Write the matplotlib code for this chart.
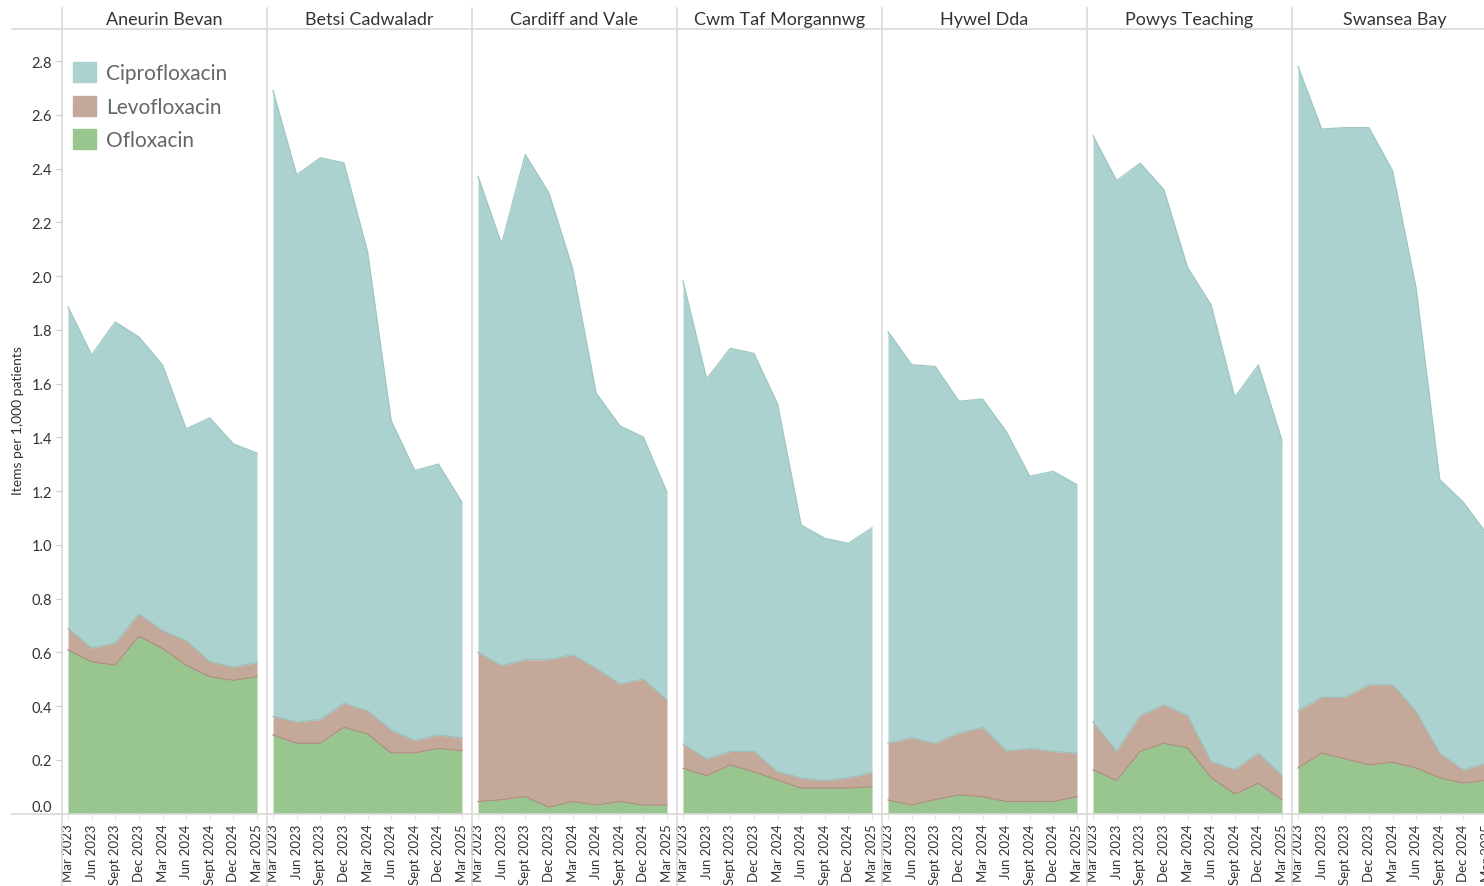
import numpy as np
import matplotlib
matplotlib.use("Agg")
import matplotlib.pyplot as plt
from matplotlib.lines import Line2D
from matplotlib.patches import Patch

plt.rcParams['font.family'] = ['Lato', 'DejaVu Sans']

# --- data (items per 1,000 patients) ---
quarters = ['Mar 2023', 'Jun 2023', 'Sept 2023', 'Dec 2023', 'Mar 2024',
            'Jun 2024', 'Sept 2024', 'Dec 2024', 'Mar 2025']
boards = ['Aneurin Bevan', 'Betsi Cadwaladr', 'Cardiff and Vale',
          'Cwm Taf Morgannwg', 'Hywel Dda', 'Powys Teaching', 'Swansea Bay']

ofloxacin = [
    [0.610, 0.565, 0.553, 0.660, 0.615, 0.553, 0.510, 0.496, 0.510],
    [0.293, 0.262, 0.262, 0.321, 0.297, 0.226, 0.226, 0.243, 0.234],
    [0.045, 0.052, 0.063, 0.024, 0.045, 0.032, 0.045, 0.032, 0.032],
    [0.169, 0.141, 0.181, 0.156, 0.125, 0.095, 0.095, 0.095, 0.100],
    [0.051, 0.032, 0.052, 0.070, 0.063, 0.045, 0.045, 0.045, 0.063],
    [0.163, 0.123, 0.232, 0.262, 0.245, 0.135, 0.073, 0.113, 0.052],
    [0.170, 0.225, 0.204, 0.182, 0.191, 0.170, 0.133, 0.114, 0.124],
]
levofloxacin = [
    [0.080, 0.051, 0.082, 0.083, 0.066, 0.091, 0.056, 0.049, 0.053],
    [0.069, 0.080, 0.088, 0.090, 0.086, 0.085, 0.046, 0.050, 0.048],
    [0.556, 0.499, 0.510, 0.549, 0.547, 0.509, 0.438, 0.469, 0.391],
    [0.090, 0.063, 0.051, 0.076, 0.031, 0.038, 0.028, 0.038, 0.054],
    [0.211, 0.250, 0.210, 0.230, 0.258, 0.189, 0.198, 0.187, 0.162],
    [0.179, 0.109, 0.133, 0.143, 0.120, 0.059, 0.091, 0.112, 0.089],
    [0.213, 0.208, 0.229, 0.298, 0.289, 0.211, 0.092, 0.049, 0.064],
]
ciprofloxacin = [
    [1.196, 1.091, 1.195, 1.031, 0.989, 0.788, 0.907, 0.831, 0.779],
    [2.329, 2.035, 2.091, 2.011, 1.709, 1.152, 1.005, 1.008, 0.877],
    [1.771, 1.569, 1.880, 1.737, 1.438, 1.024, 0.961, 0.900, 0.773],
    [1.723, 1.414, 1.500, 1.481, 1.369, 0.941, 0.902, 0.873, 0.910],
    [1.532, 1.389, 1.402, 1.235, 1.222, 1.189, 1.013, 1.042, 0.999],
    [2.181, 2.124, 2.056, 1.917, 1.668, 1.699, 1.386, 1.445, 1.247],
    [2.398, 2.115, 2.120, 2.073, 1.913, 1.574, 1.018, 0.996, 0.852],
]

TEAL, BROWN, GREEN = '#acd2cf', '#c4a99b', '#99c58f'
TEAL_EDGE, BROWN_EDGE, GREEN_EDGE = '#9dc8c4', '#9fbcb6', '#a8917f'
GRID = '#d9d9d9'
TEXT = '#333333'

# --- layout in pixels ---
W, H = 1484, 887
PANEL_W = 205
X0 = 62
Y_TOP, Y_BOT = 30, 814.7

fig = plt.figure(figsize=(W / 100, H / 100), dpi=100)

x = np.arange(len(quarters))
for i, board in enumerate(boards):
    left = X0 + i * PANEL_W
    ax = fig.add_axes([left / W, (H - Y_BOT) / H, PANEL_W / W, (Y_BOT - Y_TOP) / H])
    o = np.array(ofloxacin[i])
    l = o + np.array(levofloxacin[i])
    c = l + np.array(ciprofloxacin[i])
    ax.fill_between(x, 0, o, color=GREEN, lw=0)
    ax.fill_between(x, o, l, color=BROWN, lw=0)
    ax.fill_between(x, l, c, color=TEAL, lw=0)
    ax.plot(x, o, color=GREEN_EDGE, lw=0.9)
    ax.plot(x, l, color=BROWN_EDGE, lw=0.9)
    ax.plot(x, c, color=TEAL_EDGE, lw=0.9)

    ax.set_xlim(-0.254, 8.423)
    ax.set_ylim(0, 2.92)
    ax.patch.set_alpha(0)
    for s in ax.spines.values():
        s.set_visible(False)

    ax.set_xticks(x, quarters, rotation=90, fontsize=9.5, color=TEXT)
    ax.tick_params(axis='x', length=4, color='#e6e6e6', pad=3)

    if i == 0:
        yt = np.round(np.arange(0, 2.81, 0.2), 1)
        ax.set_yticks(yt, [f"{v:.1f}" for v in yt], fontsize=10.5, color=TEXT)
        ax.tick_params(axis='y', length=4, color='#cccccc', pad=3)
        ax.get_yticklabels()[0].set_va('bottom')
    else:
        ax.set_yticks([])

    fig.text((left + PANEL_W / 2) / W, 1 - 20 / H, board, ha='center', va='center',
             fontsize=13, color=TEXT)

# frame lines
def fline(x0, y0, x1, y1):
    fig.add_artist(Line2D([x0 / W, x1 / W], [1 - y0 / H, 1 - y1 / H],
                          transform=fig.transFigure, color=GRID, lw=1.2))

for i in range(len(boards)):
    xl = X0 + i * PANEL_W
    fline(xl, 9, xl, H)
fline(12, Y_TOP, W, Y_TOP)
fline(12, Y_BOT, W, Y_BOT)

fig.text(18 / W, 1 - 421 / H, 'Items per 1,000 patients', rotation=90,
         ha='center', va='center', fontsize=10, color=TEXT)

handles = [Patch(color=TEAL), Patch(color=BROWN), Patch(color=GREEN)]
fig.legend(handles, ['Ciprofloxacin', 'Levofloxacin', 'Ofloxacin'],
           loc='upper left', bbox_to_anchor=(73 / W, 1 - 63 / H), frameon=False,
           fontsize=15, labelcolor='#666666', handlelength=1.1, handleheight=1.1,
           handletextpad=0.5, labelspacing=0.6, borderpad=0, borderaxespad=0)

fig.savefig('out.png', dpi=100)
